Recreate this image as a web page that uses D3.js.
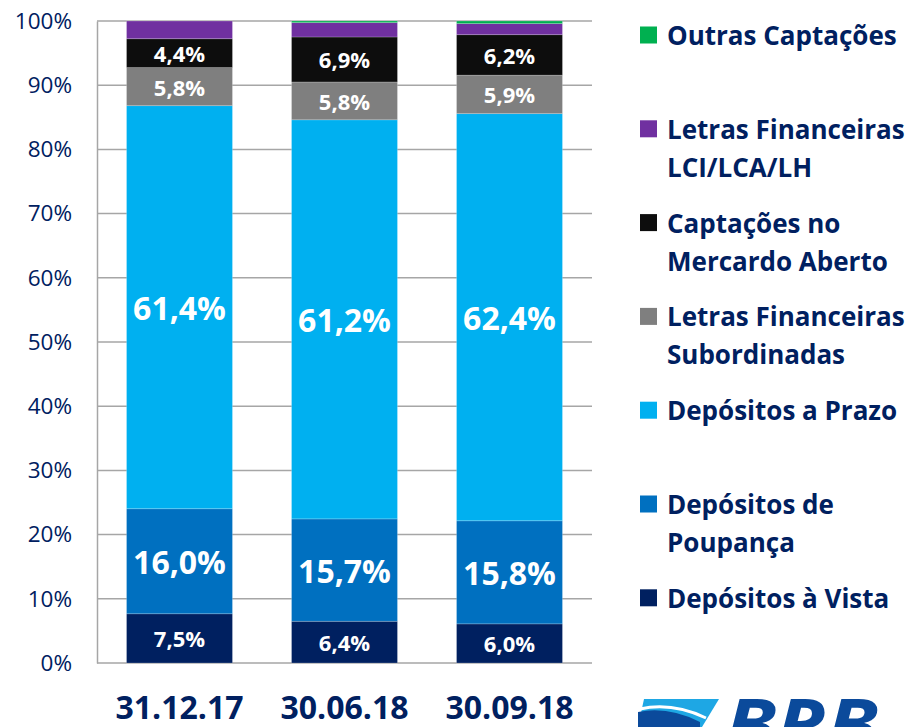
<!DOCTYPE html>
<html>
<head>
<meta charset="utf-8">
<script src="https://cdn.jsdelivr.net/npm/d3@7"></script>
<style>
  body { margin: 0; background: #fff; }
  svg { display: block; font-family: "Open Sans", sans-serif; }
</style>
</head>
<body>
<svg id="chart" width="908" height="727"></svg>
<script>
// periods on the x axis
var periods = ["31.12.17", "30.06.18", "30.09.18"];

// shares per funding source (labels as printed; purple/green)
var depVista = [7.5, 6.4, 6.0];
var depPoupanca = [16.0, 15.7, 15.8];
var depPrazo = [61.4, 61.2, 62.4];
var lfSubordinadas = [5.8, 5.8, 5.9];
var mercadoAberto = [4.4, 6.9, 6.2];
var lciLcaLh = [2.7, 2.2, 1.7];
var outras = [0.0, 0.25, 0.4];

var yTicks = [0, 0.1, 0.2, 0.3, 0.4, 0.5, 0.6, 0.7, 0.8, 0.9, 1];

// series bottom -> top
var series = [
  { key: "vista", name: ["Depósitos à Vista"], values: depVista, color: "#002060", label: "small" },
  { key: "poupanca", name: ["Depósitos de", "Poupança"], values: depPoupanca, color: "#0070c0", label: "big" },
  { key: "prazo", name: ["Depósitos a Prazo"], values: depPrazo, color: "#00b0f0", label: "big" },
  { key: "lfsub", name: ["Letras Financeiras", "Subordinadas"], values: lfSubordinadas, color: "#7f7f7f", label: "small" },
  { key: "mercado", name: ["Captações no", "Mercardo Aberto"], values: mercadoAberto, color: "#0d0d0d", label: "small" },
  { key: "lci", name: ["Letras Financeiras", "LCI/LCA/LH"], values: lciLcaLh, color: "#7030a0", label: null },
  { key: "outras", name: ["Outras Captações"], values: outras, color: "#00b050", label: null }
];

var navy = "#002060";
var svg = d3.select("#chart");

var plot = { left: 97, right: 592, top: 21, bottom: 663 };

var rows = periods.map(function (p, i) {
  var r = { period: p };
  series.forEach(function (s) { r[s.key] = s.values[i]; });
  return r;
});

var stack = d3.stack()
  .keys(series.map(function (s) { return s.key; }))
  .offset(d3.stackOffsetExpand);
var stacked = stack(rows);

var x = d3.scaleBand().domain(periods).range([plot.left, plot.right])
  .paddingInner(0.358).paddingOuter(0.179);
var y = d3.scaleLinear().domain([0, 1]).range([plot.bottom, plot.top]);

// gridlines
svg.append("g").selectAll("line").data(yTicks).join("line")
  .attr("x1", plot.left).attr("x2", plot.right)
  .attr("y1", function (d) { return y(d); }).attr("y2", function (d) { return y(d); })
  .attr("stroke", "#a6a6a6").attr("stroke-width", 1.5);

// y axis
var yAxis = svg.append("g")
  .attr("transform", "translate(" + plot.left + ",0)")
  .call(d3.axisLeft(y).tickValues(yTicks).tickFormat(d3.format(".0%")).tickSize(0).tickPadding(25));
yAxis.select(".domain").attr("stroke", "#a6a6a6").attr("stroke-width", 1.5);
yAxis.selectAll("text").attr("fill", navy).attr("font-size", 22.5)
  .attr("font-family", "Open Sans");

// bars
var layers = svg.append("g").selectAll("g").data(stacked).join("g")
  .attr("fill", function (d, i) { return series[i].color; });
layers.selectAll("rect").data(function (d) { return d; }).join("rect")
  .attr("x", function (d) { return x(d.data.period); })
  .attr("width", x.bandwidth())
  .attr("y", function (d) { return y(d[1]); })
  .attr("height", function (d) { return y(d[0]) - y(d[1]); })
  .attr("stroke", "#ffffff").attr("stroke-opacity", 0.25).attr("stroke-width", 0.8);

// value labels
var fmt = function (v) { return d3.format(".1f")(v).replace(".", ",") + "%"; };
stacked.forEach(function (layer, i) {
  var s = series[i];
  if (!s.label) return;
  svg.append("g").selectAll("text").data(layer).join("text")
    .attr("x", function (d) { return x(d.data.period) + x.bandwidth() / 2; })
    .attr("y", function (d) { return (y(d[0]) + y(d[1])) / 2; })
    .attr("text-anchor", "middle")
    .attr("dominant-baseline", "central")
    .attr("fill", "#ffffff")
    .attr("font-weight", 700)
    .attr("font-size", s.label === "big" ? 32 : 22)
    .text(function (d, j) { return fmt(s.values[j]); });
});

// x labels
svg.append("g").selectAll("text").data(periods).join("text")
  .attr("x", function (d) { return x(d) + x.bandwidth() / 2; })
  .attr("y", 719)
  .attr("text-anchor", "middle")
  .attr("fill", navy).attr("font-weight", 700).attr("font-size", 32)
  .text(function (d) { return d; });

// legend (top item first)
var legendItems = series.slice().reverse();
var legend = svg.append("g").selectAll("g").data(legendItems).join("g")
  .attr("transform", function (d, i) { return "translate(640," + (35 + i * 93.8) + ")"; });
legend.append("rect").attr("x", 0).attr("y", -8.5).attr("width", 17).attr("height", 17)
  .attr("fill", function (d) { return d.color; });
legend.each(function (d) {
  var g = d3.select(this);
  d.name.forEach(function (line, k) {
    g.append("text")
      .attr("x", 27).attr("y", k * 38)
      .attr("dominant-baseline", "central")
      .attr("fill", navy).attr("font-weight", 700).attr("font-size", 26)
      .text(line);
  });
});

// logo (partly cut off at the bottom)
var logo = svg.append("g");
logo.append("path").attr("d", "M644,699 L719,699 L702,727 L638,727 Z").attr("fill", "#1ea7e4");
logo.append("path").attr("d", "M638,712 Q668,706 700,722 L700,727 L638,727 Z").attr("fill", "#0b4a9b");
logo.append("path").attr("d", "M640,709 Q672,702 706,718").attr("fill", "none")
  .attr("stroke", "#ffffff").attr("stroke-width", 3);
logo.append("text").attr("x", 725).attr("y", 749)
  .attr("font-weight", 700).attr("font-style", "italic").attr("font-size", 70)
  .attr("textLength", 153).attr("lengthAdjust", "spacingAndGlyphs")
  .attr("fill", "#0b4a9b").text("BRB");
</script>
</body>
</html>
